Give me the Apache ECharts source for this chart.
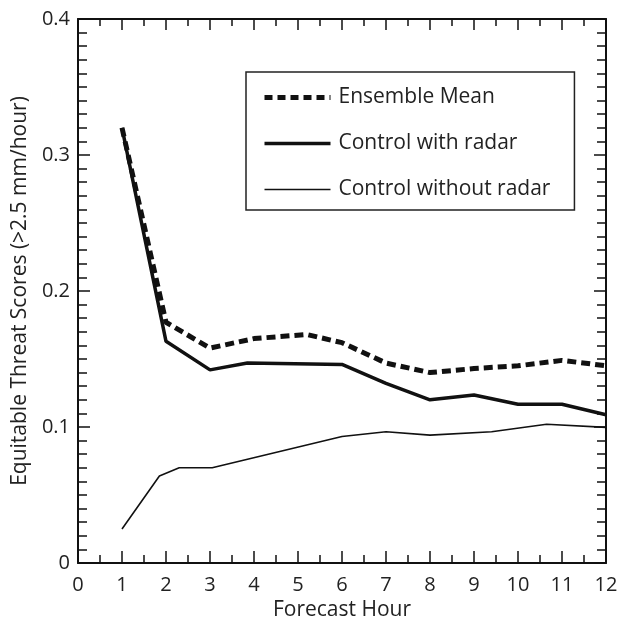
<!DOCTYPE html>
<html>
<head>
<meta charset="utf-8">
<script src="https://cdn.jsdelivr.net/npm/echarts@6/dist/echarts.min.js"></script>
<style>
  html, body { margin: 0; padding: 0; background: #fff; }
  #chart { width: 622px; height: 619px; }
</style>
</head>
<body>
<div id="chart"></div>
<script>
// values
const meanHours = [1, 2, 3, 4, 5.2, 6, 7, 8, 9, 10, 11, 12]
const meanScores = [0.32, 0.177, 0.158, 0.165, 0.168, 0.162, 0.147, 0.140, 0.143, 0.145, 0.149, 0.145]

const radarHours = [1, 2, 3, 3.85, 6, 7, 8, 9, 10, 11, 12]
const radarScores = [0.32, 0.163, 0.142, 0.147, 0.146, 0.132, 0.120, 0.1235, 0.1167, 0.1167, 0.109]

const noRadarHours = [1, 1.85, 2.3, 3.05, 6, 7, 8, 9.4, 10.65, 12]
const noRadarScores = [0.025, 0.064, 0.070, 0.070, 0.093, 0.0965, 0.094, 0.0965, 0.102, 0.0997]

const seriesNames = ["Ensemble Mean", "Control with radar", "Control without radar"]

const pairs = (xs, ys) => xs.map((x, i) => [x, ys[i]])

const font = "Open Sans"
const chart = echarts.init(document.getElementById("chart"))

// 坐标轴的公共样式
const boxAxis = {
  axisLine: { show: true, onZero: false, lineStyle: { color: "#111", width: 2 } },
  splitLine: { show: false },
}

const meanLine = { color: "#111", width: 5, type: [9, 5] }
const radarLine = { color: "#111", width: 3.5 }
const noRadarLine = { color: "#111", width: 1.6 }

chart.setOption({
  animation: false,
  backgroundColor: "#fff",
  grid: { left: 78, top: 19, right: 16, bottom: 56, outerBoundsMode: "none", containLabel: false },
  legend: {
    orient: "vertical",
    left: 246,
    top: 72,
    padding: [15, 24, 10, 16],
    itemWidth: 66,
    itemHeight: 14,
    itemGap: 25,
    borderColor: "#222",
    borderWidth: 1.5,
    itemStyle: { opacity: 0 },
    textStyle: { fontFamily: font, fontSize: 21, lineHeight: 14, color: "#222", padding: [0, 0, 0, 3] },
    data: [
      { name: seriesNames[0], lineStyle: { width: 5, type: [8, 5] } },
      { name: seriesNames[1], lineStyle: { width: 3.5 } },
      { name: seriesNames[2], lineStyle: { width: 1.6 } },
    ],
  },
  xAxis: [
    {
      ...boxAxis,
      type: "value",
      min: 0,
      max: 12,
      interval: 1,
      name: "Forecast Hour",
      nameLocation: "middle",
      nameGap: 37,
      nameTextStyle: { fontFamily: font, fontSize: 21, color: "#222" },
      axisTick: { inside: true, length: 12, lineStyle: { color: "#111", width: 1.5 } },
      minorTick: { show: true, splitNumber: 2, length: 8, lineStyle: { color: "#111", width: 1.5 } },
      axisLabel: { fontFamily: font, fontSize: 20, color: "#222", margin: 12 },
    },
    {
      ...boxAxis,
      type: "value",
      position: "top",
      min: 0,
      max: 12,
      interval: 1,
      axisTick: { inside: true, length: 11, lineStyle: { color: "#111", width: 1.5 } },
      minorTick: { show: true, splitNumber: 2, length: 7, lineStyle: { color: "#111", width: 1.5 } },
      axisLabel: { show: false },
    },
  ],
  yAxis: [
    {
      ...boxAxis,
      type: "value",
      min: 0,
      max: 0.4,
      interval: 0.1,
      name: "Equitable Threat Scores (>2.5 mm/hour)",
      nameLocation: "middle",
      nameGap: 43,
      nameTextStyle: { fontFamily: font, fontSize: 21, color: "#222" },
      axisTick: { inside: true, length: 12, lineStyle: { color: "#111", width: 1.5 } },
      minorTick: { show: true, splitNumber: 10, length: 9, lineStyle: { color: "#111", width: 1.5 } },
      axisLabel: {
        fontFamily: font,
        fontSize: 20,
        color: "#222",
        margin: 8,
        formatter: (v) => (v === 0 ? "0" : v.toFixed(1)),
      },
    },
    {
      ...boxAxis,
      type: "value",
      position: "right",
      min: 0,
      max: 0.4,
      interval: 0.1,
      axisTick: { inside: true, length: 12, lineStyle: { color: "#111", width: 1.5 } },
      minorTick: { show: true, splitNumber: 10, length: 9, lineStyle: { color: "#111", width: 1.5 } },
      axisLabel: { show: false },
    },
  ],
  series: [
    {
      name: seriesNames[0],
      type: "line",
      symbol: "none",
      z: 3,
      itemStyle: { color: "#111" },
      lineStyle: meanLine,
      data: pairs(meanHours, meanScores),
    },
    {
      name: seriesNames[1],
      type: "line",
      symbol: "none",
      z: 2,
      itemStyle: { color: "#111" },
      lineStyle: radarLine,
      data: pairs(radarHours, radarScores),
    },
    {
      name: seriesNames[2],
      type: "line",
      symbol: "none",
      itemStyle: { color: "#111" },
      lineStyle: noRadarLine,
      data: pairs(noRadarHours, noRadarScores),
    },
  ],
})
</script>
</body>
</html>
